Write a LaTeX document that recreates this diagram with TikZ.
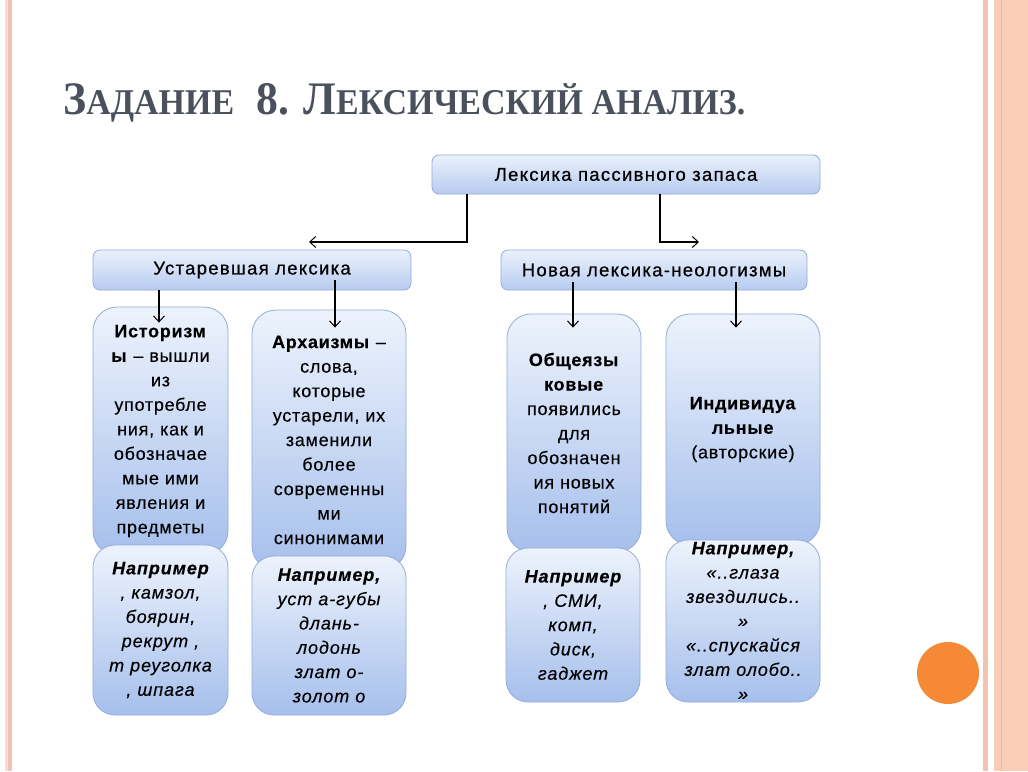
\documentclass[tikz,border=0pt]{standalone}
\usepackage{fontspec}
\setmainfont{Liberation Sans}
\newfontfamily\titlefont{Liberation Serif}
\newfontfamily\hdrfont[LetterSpace=7,FakeBold=0.6]{Liberation Sans}
\newfontfamily\bodyfont[LetterSpace=4,FakeBold=0.3]{Liberation Sans}
\newfontfamily\exfont[LetterSpace=5,FakeBold=0.3]{Liberation Sans}
\usetikzlibrary{arrows.meta}
\definecolor{boxline}{HTML}{93ACD8}
\definecolor{hdrtop}{HTML}{EAF1FC}
\definecolor{hdrbot}{HTML}{B7CBEF}
\definecolor{bigtop}{HTML}{EDF3FC}
\definecolor{bigbot}{HTML}{A6BFEC}
\definecolor{titlegray}{HTML}{4B515C}
\definecolor{stripe}{HTML}{F4C2B1}
\definecolor{stripelt}{HTML}{F9DCD1}
\definecolor{peach}{HTML}{FBCDB6}
\definecolor{peachdk}{HTML}{F2B79E}
\definecolor{dotorange}{HTML}{F58935}
\tikzset{
  hdr/.style={draw=boxline, line width=0.8pt, rounded corners=7pt, top color=hdrtop, bottom color=hdrbot,
    inner sep=0pt, font=\hdrfont\fontsize{18.5}{20}\selectfont, text=black},
  bigbox/.style={draw=boxline, line width=0.8pt, rounded corners=24pt, top color=bigtop, bottom color=bigbot,
    inner sep=0pt, align=center, font=\bodyfont\fontsize{18}{24.5}\selectfont, text=black},
  exbox/.style={bigbox, rounded corners=22pt, font=\exfont\fontsize{18}{24.3}\selectfont\itshape},
  conn/.style={draw=black, line width=2pt, -{Straight Barb[length=6pt,width=11pt,line width=1pt]}},
}
\begin{document}
\begin{tikzpicture}[x=1pt,y=-1pt]
\useasboundingbox (0,0) rectangle (1028,771);
\fill[white] (0,0) rectangle (1028,771);
% borders
\fill[stripelt] (5,0) rectangle (7.5,771);
\fill[stripe] (7.5,0) rectangle (12,771);
\fill[stripe] (983,0) rectangle (988,771);
\fill[peach] (994,0) rectangle (1028,771);
\fill[peachdk] (1000.5,0) rectangle (1002,771);
\fill[dotorange] (948,673) circle (31);
% title
\node[anchor=base west, inner sep=0pt, text=titlegray] (title) at (63,114)
  {\resizebox{682pt}{31pt}{\titlefont\bfseries
   \fontsize{45}{45}\selectfont З\fontsize{35}{35}\selectfont АДАНИЕ\hspace{0.4em}
   \fontsize{45}{45}\selectfont 8. Л\fontsize{35}{35}\selectfont ЕКСИЧЕСКИЙ АНАЛИЗ.}};
% headers
\node[hdr, minimum width=388pt, minimum height=39pt] (top) at (626,174.5) {Лексика пассивного запаса};
\node[hdr, minimum width=318pt, minimum height=40pt] (old) at (252,270) {Устаревшая лексика};
\node[hdr, minimum width=306pt, minimum height=40pt] (new) at (654,270) {Новая лексика-неологизмы};
% big boxes
\node[bigbox, minimum width=135pt, minimum height=248pt, text width=133pt] (hist) at (160.5,431)
  {\textbf{Историзм}\\\textbf{ы} – вышли\\из\\употребле\\ния, как и\\обозначае\\мые ими\\явления и\\предметы};
\node[bigbox, minimum width=154pt, minimum height=260pt, text width=152pt] (arch) at (329,440)
  {\textbf{Архаизмы} –\\слова,\\которые\\устарели, их\\заменили\\более\\современны\\ми\\синонимами};
\node[bigbox, minimum width=134pt, minimum height=238pt, text width=132pt] (obsh) at (574,433)
  {\textbf{Общеязы}\\\textbf{ковые}\\появились\\для\\обозначен\\ия новых\\понятий};
\node[bigbox, minimum width=154pt, minimum height=231pt, text width=152pt] (indiv) at (743,429.5)
  {\textbf{Индивидуа}\\\textbf{льные}\\(авторские)};
% example boxes
\node[exbox, minimum width=135pt, minimum height=170pt, text width=133pt] (histex) at (160.5,630)
  {\textbf{Например}\\, камзол,\\боярин,\\рекрут ,\\т реуголка\\, шпага};
\node[exbox, minimum width=154pt, minimum height=159pt, text width=152pt] (archex) at (329,635.5)
  {\textbf{Например,}\\уст а-губы\\длань-\\лодонь\\злат о-\\золот о};
\node[exbox, minimum width=134pt, minimum height=154pt, text width=132pt] (obshex) at (573,625)
  {\textbf{Например}\\, СМИ,\\комп,\\диск,\\гаджет};
\node[exbox, minimum width=154pt, minimum height=162pt, text width=152pt] (indivex) at (743,621)
  {\textbf{Например,}\\«..глаза\\звездились..\\»\\«..спускайся\\злат олобо..\\»};
% connectors
\coordinate (toL) at (309,242);
\coordinate (toR) at (699,242);
\draw[conn] (top.south -| 467,0) |- (toL);
\draw[conn] (top.south -| 660,0) |- (toR);
\draw[conn] (old.south -| 159,0) -- (hist.north -| 159,0) -- ++(0,16);
\draw[conn] (335,280) -- (arch.north -| 335,0) -- ++(0,18);
\draw[conn] (573,282) -- (obsh.north -| 573,0) -- ++(0,14);
\draw[conn] (736,282) -- (indiv.north -| 736,0) -- ++(0,14);
\end{tikzpicture}
\end{document}
